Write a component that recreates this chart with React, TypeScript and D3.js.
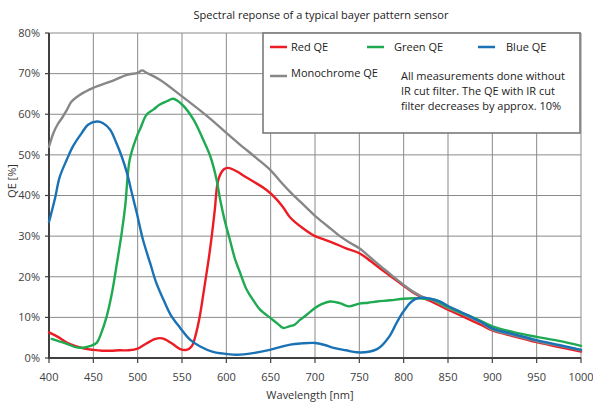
import React from 'react';
import * as d3 from 'd3';

// values
const xTicks = [400, 450, 500, 550, 600, 650, 700, 750, 800, 850, 900, 950, 1000];
const yTicks = [0, 10, 20, 30, 40, 50, 60, 70, 80];

const redNm = [400, 410, 420, 430, 440, 450, 460, 470, 480, 490, 500, 507, 514, 520, 525, 531, 537, 543, 548, 555, 561, 566, 570, 576, 580, 584, 587, 591, 597, 602, 612, 620, 630, 645, 657, 665, 672, 686, 700, 710, 721, 735, 750, 763, 775, 788, 800, 810, 820, 835, 850, 863, 875, 888, 900, 925, 950, 975, 1000];
const redQe = [6.3, 5.2, 3.8, 2.9, 2.3, 2.0, 1.8, 1.8, 1.9, 1.9, 2.3, 3.2, 4.1, 4.7, 4.9, 4.6, 3.8, 2.9, 2.2, 2.0, 2.9, 6.2, 10.2, 18.5, 24.2, 30.8, 36.5, 43.9, 46.4, 46.8, 45.9, 44.8, 43.5, 41.4, 39, 36.8, 34.6, 32, 30, 29.2, 28.3, 27, 25.8, 23.8, 21.8, 19.7, 17.8, 16.2, 15, 13.5, 11.9, 10.6, 9.4, 8.1, 6.8, 5.3, 3.9, 2.7, 1.6];

const greenNm = [403, 410, 420, 431, 440, 446, 454, 459, 465, 471, 476, 482, 486, 491, 499, 503, 510, 518, 525, 533, 540, 550, 563, 574, 582, 589, 593, 598, 604, 610, 615, 623, 631, 638, 650, 658, 664, 671, 677, 683, 691, 700, 708, 717, 728, 738, 750, 760, 770, 785, 800, 812, 822, 833, 850, 863, 875, 888, 900, 925, 950, 975, 1000];
const greenQe = [4.7, 4.2, 3.5, 2.6, 2.6, 2.9, 3.8, 6.2, 10.2, 16, 22.5, 30.8, 37.5, 48.8, 54.5, 56.5, 59.9, 61.2, 62.4, 63.2, 63.8, 62.4, 58.7, 53.7, 49.6, 43.9, 39, 34, 29.1, 24.2, 21.3, 16.8, 14, 11.9, 9.8, 8.4, 7.4, 7.8, 8.2, 9.4, 10.7, 12.3, 13.3, 13.9, 13.5, 12.7, 13.4, 13.6, 13.9, 14.2, 14.6, 14.7, 14.6, 14.4, 12.6, 11.3, 10.3, 9.0, 7.8, 6.3, 5.2, 4.2, 3.0];

const blueNm = [400, 403, 407, 412, 420, 427, 437, 444, 454, 461, 469, 476, 482, 488, 493, 499, 506, 514, 521, 529, 537, 548, 559, 570, 585, 600, 612, 630, 649, 672, 685, 700, 711, 721, 735, 747, 762, 770, 775, 780, 785, 790, 796, 801, 807, 813, 818, 824, 830, 840, 850, 863, 875, 888, 900, 925, 950, 975, 1000];
const blueQe = [33.5, 36, 39.5, 44.5, 48.8, 52.1, 55.4, 57.4, 58.2, 57.8, 56.2, 52.9, 49.6, 45.5, 41, 35.7, 29.1, 23.4, 18.5, 14.4, 10.7, 7.4, 4.5, 2.9, 1.5, 1.0, 0.8, 1.2, 2.0, 3.3, 3.6, 3.7, 3.2, 2.5, 1.9, 1.4, 1.6, 2.2, 3.0, 4.2, 5.7, 7.8, 10.2, 11.8, 13.5, 14.5, 14.8, 14.8, 14.6, 14, 12.8, 11.5, 10.2, 8.8, 7.3, 5.8, 4.4, 3.2, 2.0];

const monoNm = [400, 405, 410, 415, 420, 425, 435, 450, 470, 488, 500, 505, 510, 525, 550, 570, 585, 600, 615, 634, 650, 662, 675, 688, 700, 714, 728, 740, 750, 762, 775, 788, 800, 810, 820, 835, 850, 863, 875, 888, 900, 925, 950, 975, 1000];
const monoQe = [52, 55.4, 57.6, 59.2, 61, 63, 64.8, 66.5, 68.1, 69.7, 70.2, 70.8, 70.2, 68.5, 64.4, 61, 58.3, 55.4, 52.6, 49.2, 46.2, 43.2, 40.2, 37.5, 35, 32.5, 30, 28.3, 27, 24.8, 22.4, 20.1, 18, 16.4, 15.2, 14, 12.3, 11.1, 10, 8.6, 7, 5.5, 4.1, 3, 1.9];

const noteLines = [
  'All measurements done without',
  'IR cut filter. The QE with IR cut',
  'filter decreases by approx. 10%',
];

const W = 593;
const H = 403;
const margin = { top: 33, right: 12, bottom: 45, left: 49 };
const FONT = '"Open Sans", "DejaVu Sans", sans-serif';

export default function App() {
  const x = d3.scaleLinear().domain([400, 1000]).range([margin.left, W - margin.right]);
  const y = d3.scaleLinear().domain([0, 80]).range([H - margin.bottom, margin.top]);

  const line = d3.line<[number, number]>()
    .x((d) => x(d[0]))
    .y((d) => y(d[1]))
    .curve(d3.curveCatmullRom.alpha(0.5));

  const zip = (a: number[], b: number[]) => a.map((v, i) => [v, b[i]] as [number, number]);

  // draw order: red below gray, blue/green on top
  const series = [
    { name: 'Red QE', color: '#ec1c24', d: zip(redNm, redQe) },
    { name: 'Monochrome QE', color: '#878787', d: zip(monoNm, monoQe) },
    { name: 'Green QE', color: '#1faa52', d: zip(greenNm, greenQe) },
    { name: 'Blue QE', color: '#1a72b5', d: zip(blueNm, blueQe) },
  ];

  const x0 = x(400);
  const x1 = x(1000);
  const y0 = y(0);
  const y1 = y(80);

  // legend box
  const lg = { x: 263, y: 33, w: 317, h: 100 };
  const legendRow1 = [
    { color: '#ec1c24', label: 'Red QE', lx: 270, tx: 291 },
    { color: '#1faa52', label: 'Green QE', lx: 367, tx: 394 },
    { color: '#1a72b5', label: 'Blue QE', lx: 478, tx: 506 },
  ];

  return (
    <div style={{ position: 'absolute', left: 0, top: 0 }}>
      <svg width={W} height={H} style={{ display: 'block', background: '#fff' }} fontFamily={FONT}>
        <text x={321} y={19} textAnchor="middle" fontSize={11} fill="#222">
          Spectral reponse of a typical bayer pattern sensor
        </text>

        {/* grid */}
        {xTicks.slice(1).map((t) => (
          <line key={`gx${t}`} x1={x(t)} x2={x(t)} y1={y1} y2={y0} stroke="#8a8a8a" strokeWidth={1} />
        ))}
        {yTicks.slice(1).map((t) => (
          <line key={`gy${t}`} x1={x0} x2={x1} y1={y(t)} y2={y(t)} stroke="#8a8a8a" strokeWidth={1} />
        ))}

        {/* axes */}
        <line x1={x0} x2={x0} y1={y1} y2={y0 + 1} stroke="#404040" strokeWidth={2} />
        <line x1={x0 - 1} x2={x1} y1={y0} y2={y0} stroke="#404040" strokeWidth={2} />
        {xTicks.map((t) => (
          <g key={`tx${t}`}>
            <line x1={x(t)} x2={x(t)} y1={y0} y2={y0 + 5} stroke="#404040" strokeWidth={1.2} />
            <text x={x(t)} y={y0 + 23} textAnchor="middle" fontSize={11} fill="#404040">{t}</text>
          </g>
        ))}
        {yTicks.map((t) => (
          <g key={`ty${t}`}>
            <line x1={x0 - 4} x2={x0} y1={y(t)} y2={y(t)} stroke="#404040" strokeWidth={1.2} />
            <text x={40} y={y(t)} dy="0.35em" textAnchor="end" fontSize={11} fill="#404040">{`${t}%`}</text>
          </g>
        ))}

        <text x={310} y={399} textAnchor="middle" fontSize={11} fill="#333">Wavelength [nm]</text>
        <text transform="translate(16,181) rotate(-90)" textAnchor="middle" fontSize={11} fill="#333">QE [%]</text>

        {/* legend */}
        <rect x={lg.x} y={lg.y} width={lg.w} height={lg.h} fill="#fff" stroke="#7a7a7a" strokeWidth={1.6} />
        {legendRow1.map((l) => (
          <g key={l.label}>
            <line x1={l.lx} x2={l.lx + 17} y1={47} y2={47} stroke={l.color} strokeWidth={2.5} />
            <text x={l.tx} y={47} dy="0.35em" fontSize={11} fill="#222">{l.label}</text>
          </g>
        ))}
        <line x1={270} x2={287} y1={76} y2={76} stroke="#878787" strokeWidth={2.5} />
        <text x={291} y={73} dy="0.35em" fontSize={11} fill="#222">Monochrome QE</text>
        {noteLines.map((s, i) => (
          <text key={s} x={401} y={76 + i * 15} dy="0.35em" fontSize={11} fill="#222">{s}</text>
        ))}

        {/* curves */}
        {series.map((s) => (
          <path key={s.name} d={line(s.d) || ''} fill="none" stroke={s.color} strokeWidth={2.4} strokeLinejoin="round" strokeLinecap="round" />
        ))}
      </svg>
    </div>
  );
}
